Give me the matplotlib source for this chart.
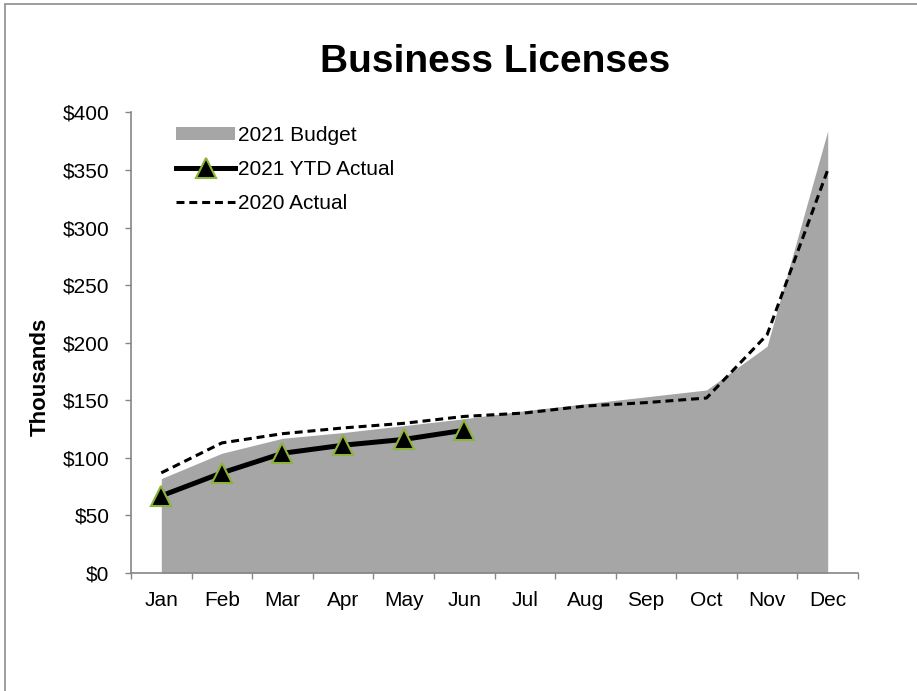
import numpy as np
import matplotlib.pyplot as plt
from matplotlib.patches import Rectangle

plt.rcParams['font.family'] = ['Liberation Sans', 'DejaVu Sans']

months = ['Jan', 'Feb', 'Mar', 'Apr', 'May', 'Jun',
          'Jul', 'Aug', 'Sep', 'Oct', 'Nov', 'Dec']
budget_2021 = [82, 104, 117, 122, 128, 134, 141, 147, 153, 159, 197, 384]
ytd_2021 = [67, 87, 104, 111, 116, 124]
actual_2020 = [87, 113, 121, 126, 130, 136, 139, 145, 148, 152, 207, 350]
y_ticks = [0, 50, 100, 150, 200, 250, 300, 350, 400]

W, H = 917, 691
fig = plt.figure(figsize=(W / 100, H / 100), dpi=100)
ax = fig.add_axes([131 / W, 1 - 573 / H, (858 - 131) / W, (573 - 112.5) / H])

x = np.arange(len(months))
ax.fill_between(x, budget_2021, 0, color='#a6a6a6', lw=0, label='2021 Budget')
ax.plot(np.arange(len(ytd_2021)), ytd_2021, color='black', lw=3.6,
        marker='^', markersize=14, markerfacecolor='black',
        markeredgecolor='#8db33a', markeredgewidth=1.5,
        label='2021 YTD Actual', zorder=4)
ax.plot(x, actual_2020, color='black', lw=2.2, dashes=(2.6, 1.6),
        label='2020 Actual', zorder=3)

ax.set_xlim(-0.5, len(months) - 0.5)
ax.set_ylim(0, 400)
ax.set_yticks(y_ticks)
ax.set_yticklabels([f'${v}' for v in y_ticks])

# month labels in the middle, tick marks on the boundaries
ax.set_xticks(np.arange(len(months) + 1) - 0.5)
ax.set_xticklabels([])
ax.set_xticks(x, minor=True)
ax.set_xticklabels(months, minor=True)
ax.tick_params(axis='x', which='major', direction='out', length=4,
               color='#868686', width=1)
ax.tick_params(axis='x', which='minor', length=0, pad=13, labelsize=15)
ax.tick_params(axis='y', direction='out', length=4.5, color='#868686',
               width=1, pad=11, labelsize=15)

for side in ['top', 'right']:
    ax.spines[side].set_visible(False)
for side in ['left', 'bottom']:
    ax.spines[side].set_color('#868686')
    ax.spines[side].set_linewidth(1.2)

fig.text(495 / W, 1 - 62 / H, 'Business Licenses', ha='center',
         va='center', fontsize=28, fontweight='bold')
fig.text(40 / W, 1 - 377 / H, 'Thousands', ha='center', va='center',
         rotation=90, fontsize=16, fontweight='bold')

ax.legend(loc='upper left', bbox_to_anchor=(176 / W, 1 - 126 / H),
          bbox_transform=fig.transFigure, frameon=False, fontsize=15,
          handlelength=2.85, handletextpad=0.15, labelspacing=0.72,
          borderpad=0, borderaxespad=0, handleheight=0.55)

fig.patches.append(Rectangle((5 / W, -0.05), 1.1, 1.05 - 4 / H,
                             transform=fig.transFigure, fill=False,
                             edgecolor='#8c8c8c', lw=1.2))

fig.savefig('out.png', dpi=100)
